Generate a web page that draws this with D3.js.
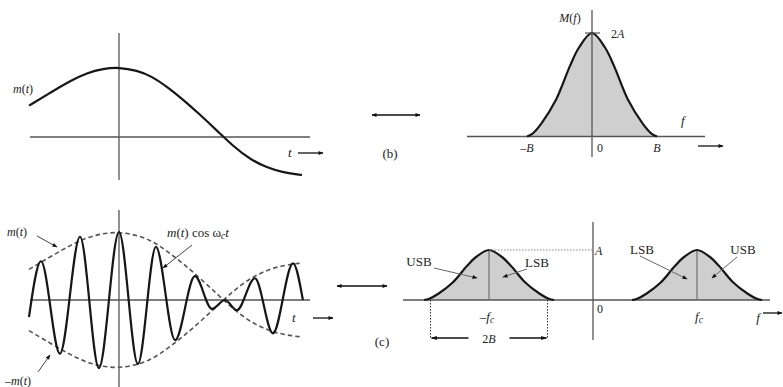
<!DOCTYPE html>
<html><head><meta charset="utf-8">
<script src="https://cdn.jsdelivr.net/npm/d3@7/dist/d3.min.js"></script>
<style>
html,body{margin:0;padding:0;background:#fff;}
svg text{font-family:"Liberation Serif","DejaVu Serif",serif;fill:#222;}
</style></head>
<body>
<svg id="c" width="783" height="387"></svg>
<script>
// ---- data ----
// message m(t): time samples (units of 30 px) and normalised amplitude
const mT = [-3.0,-2.2,-1.6,-1.07,-0.53,0,0.6,1.1,1.6,2.13,2.7,3.27,3.8,4.37,4.93,5.47,6.1];
const mV = [0.45,0.66,0.81,0.92,0.98,1.0,0.955,0.87,0.72,0.54,0.32,0.09,-0.13,-0.32,-0.44,-0.51,-0.545];
// modulated signal m(t)cos(wc t): extrema
const carT = [-3.0,-2.6,-1.97,-1.3,-0.67,0,0.63,1.23,1.87,2.53,3.1,3.53,3.93,4.53,5.13,5.8,6.13];
const carV = [-0.25,0.57,-0.79,0.93,-1.0,1.0,-0.94,0.78,-0.59,0.35,-0.13,0.0,-0.15,0.32,-0.49,0.54,0.0];
// spectrum M(f): frequency in units of B, value with peak 2A (A = 1)
const bellF = [-1,-0.92,-0.78,-0.55,-0.34,-0.2,0,0.2,0.34,0.55,0.78,0.92,1];
const bellM = [0,0.05,0.25,0.72,1.36,1.72,2,1.72,1.36,0.72,0.25,0.05,0];
const fc = 1.6;            // carrier frequency in units of B
const dimEdges = [-0.9, 0.9]; // dotted 2B marker offsets from -fc
const labelsB = ["\u2013B", "0", "B"];

const svg = d3.select("#c");
const defs = svg.append("defs");
defs.append("marker").attr("id","ar").attr("viewBox","0 0 10 10").attr("refX",9).attr("refY",5)
  .attr("markerWidth",8).attr("markerHeight",6).attr("orient","auto-start-reverse")
  .attr("markerUnits","userSpaceOnUse")
  .append("path").attr("d","M0,1.5 L10,5 L0,8.5 Z").attr("fill","#111");
defs.append("marker").attr("id","ars").attr("viewBox","0 0 10 10").attr("refX",9).attr("refY",5)
  .attr("markerWidth",6).attr("markerHeight",5).attr("orient","auto-start-reverse")
  .attr("markerUnits","userSpaceOnUse")
  .append("path").attr("d","M0,1 L10,5 L0,9 Z").attr("fill","#111");

const axisCol = "#555", curveCol = "#161616";
const smooth = d3.curveCatmullRom.alpha(0.5);
function line(x1,y1,x2,y2,opt={}) {
  const l = svg.append("line").attr("x1",x1).attr("y1",y1).attr("x2",x2).attr("y2",y2)
    .attr("stroke",opt.color||axisCol).attr("stroke-width",opt.w||1.3);
  if (opt.dash) l.attr("stroke-dasharray",opt.dash);
  if (opt.end) l.attr("marker-end","url(#"+opt.end+")");
  if (opt.start) l.attr("marker-start","url(#"+opt.start+")");
  return l;
}
function text(x,y,parts,opt={}) {
  const t = svg.append("text").attr("x",x).attr("y",y).attr("font-size",opt.size||13)
    .attr("text-anchor",opt.anchor||"start");
  parts.forEach(p=>{
    const s = t.append("tspan").text(p.t);
    if (p.i) s.attr("font-style","italic");
    if (p.sub) s.attr("baseline-shift","-25%").attr("font-size",(opt.size||13)*0.72);
  });
  return t;
}

// ---- panel (a): m(t) ----
const xT = d3.scaleLinear().domain([0,1]).range([119,149]);
const yA = d3.scaleLinear().domain([0,1]).range([137,67.3]);
line(30,yA(0),310,yA(0));
line(xT(0),33,xT(0),180);
const mData = mT.map((t,i)=>[t,mV[i]]);
svg.append("path").datum(mData)
  .attr("d", d3.line().x(d=>xT(d[0])).y(d=>yA(d[1])).curve(d3.curveBasis))
  .attr("fill","none").attr("stroke",curveCol).attr("stroke-width",2.2);
text(13,93,[{t:"m",i:1},{t:"("},{t:"t",i:1},{t:")"}],{size:12});
text(288,157,[{t:"t",i:1}],{size:13});
line(298,153,323,153,{color:"#111",w:1.3,end:"ars"});

// double arrows & panel tags
line(372,115,420,115,{color:"#111",w:1.3,end:"ars",start:"ars"});
text(390,158,[{t:"(b)"}],{size:13,anchor:"middle"});
line(337,286,387,286,{color:"#111",w:1.3,end:"ars",start:"ars"});
text(382,346,[{t:"(c)"}],{size:13,anchor:"middle"});

// ---- panel (b): M(f) ----
const xB = d3.scaleLinear().domain([-1,1]).range([527,657]);
const yB = d3.scaleLinear().domain([0,2]).range([136.5,33]);
const bData = bellF.map((f,i)=>[f,bellM[i]]);
svg.append("path").datum(bData)
  .attr("d", d3.area().x(d=>xB(d[0])).y0(yB(0)).y1(d=>yB(d[1])).curve(smooth))
  .attr("fill","#cfcfcf");
line(467,136.5,705,136.5);
line(xB(0),10,xB(0),157);
svg.append("path").datum(bData)
  .attr("d", d3.line().x(d=>xB(d[0])).y(d=>yB(d[1])).curve(smooth))
  .attr("fill","none").attr("stroke",curveCol).attr("stroke-width",2.2);
line(xB(0)-7,yB(2),xB(0)+8,yB(2),{w:1.2});
text(570,22,[{t:"M",i:1},{t:"("},{t:"f",i:1},{t:")"}],{size:12,anchor:"middle"});
text(611,38,[{t:"2"},{t:"A",i:1}],{size:12});
text(681,125,[{t:"f",i:1}],{size:13});
[-1,0,1].forEach((f,i)=>{
  text(xB(f)+(f===0?8:0),152,[{t:labelsB[i],i:f!==0}],{size:12,anchor:"middle"});
});
line(698,146,723,146,{color:"#111",w:1.3,end:"ars"});

// ---- panel (c) left: modulated signal ----
const yC = d3.scaleLinear().domain([0,1]).range([300,232]);
line(30,300,310,300);
line(xT(0),210,xT(0),387);
const env = d3.line().x(d=>xT(d[0])).y(d=>yC(d[1])).curve(d3.curveBasis);
svg.append("path").datum(mData).attr("d",env)
  .attr("fill","none").attr("stroke","#555").attr("stroke-width",1.6).attr("stroke-dasharray","4.5,3");
svg.append("path").datum(mData.map(d=>[d[0],-d[1]])).attr("d",env)
  .attr("fill","none").attr("stroke","#555").attr("stroke-width",1.6).attr("stroke-dasharray","4.5,3");
svg.append("path").datum(carT.map((t,i)=>[t,carV[i]]))
  .attr("d", d3.line().x(d=>xT(d[0])).y(d=>yC(d[1])).curve(d3.curveMonotoneX))
  .attr("fill","none").attr("stroke",curveCol).attr("stroke-width",2.2);
text(7,236,[{t:"m",i:1},{t:"("},{t:"t",i:1},{t:")"}],{size:12});
line(37,236,57,247,{color:"#444",w:1,end:"ars"});
text(5,385,[{t:"\u2013"},{t:"m",i:1},{t:"("},{t:"t",i:1},{t:")"}],{size:12});
line(38,372,50,355,{color:"#444",w:1,end:"ars"});
text(167,237,[{t:"m",i:1},{t:"("},{t:"t",i:1},{t:") cos ω"},{t:"c",i:1,sub:1},{t:"t",i:1}],{size:13});
line(192,245,163,268,{color:"#444",w:1,end:"ars"});
text(292,322,[{t:"t",i:1}],{size:13});
line(313,318,333,318,{color:"#111",w:1.3,end:"ars"});

// ---- panel (c) right: DSB spectrum ----
const xS = d3.scaleLinear().domain([0,1]).range([593,658]);
const yS = d3.scaleLinear().domain([0,1]).range([300,250]);
[-fc, fc].forEach(c=>{
  const d = bellF.map((f,i)=>[c+f, bellM[i]/2]);
  svg.append("path").datum(d)
    .attr("d", d3.area().x(p=>xS(p[0])).y0(yS(0)).y1(p=>yS(p[1])).curve(smooth))
    .attr("fill","#cfcfcf");
});
line(403,300,770,300);
line(xS(0),222,xS(0),340);
[-fc, fc].forEach(c=>{
  line(xS(c),yS(1),xS(c),yS(0),{color:"#666",w:1.1});
  const d = bellF.map((f,i)=>[c+f, bellM[i]/2]);
  svg.append("path").datum(d)
    .attr("d", d3.line().x(p=>xS(p[0])).y(p=>yS(p[1])).curve(smooth))
    .attr("fill","none").attr("stroke",curveCol).attr("stroke-width",2.2);
});
line(xS(-fc),yS(1),xS(0),yS(1),{color:"#888",w:1,dash:"1.5,1.5"});
text(xS(0)+2,255,[{t:"A",i:1}],{size:12});
text(xS(0)+7,313,[{t:"0"}],{size:12,anchor:"middle"});
text(xS(-fc)-2,321,[{t:"\u2013"},{t:"f",i:1},{t:"c",i:1,sub:1}],{size:13,anchor:"middle"});
text(xS(fc)+2,321,[{t:"f",i:1},{t:"c",i:1,sub:1}],{size:13,anchor:"middle"});
text(758,322,[{t:"f",i:1}],{size:13,anchor:"middle"});
line(763,313,782,313,{color:"#111",w:1.3,end:"ars"});
// 2B dimension
const dl = xS(-fc+dimEdges[0]), dr = xS(-fc+dimEdges[1]);
line(dl,300,dl,338,{color:"#333",w:1,dash:"1.5,1.5"});
line(dr,300,dr,338,{color:"#333",w:1,dash:"1.5,1.5"});
line(dl+1,338,dl+38,338,{color:"#111",w:1.3,start:"ar"});
line(dr-38,338,dr-1,338,{color:"#111",w:1.3,end:"ar"});
text(xS(-fc),343,[{t:"2"},{t:"B",i:1}],{size:12,anchor:"middle"});
// sideband labels
text(419,266,[{t:"USB"}],{size:13,anchor:"middle"});
line(434,268,477,278,{color:"#666",w:1,end:"ars"});
text(537,267,[{t:"LSB"}],{size:13,anchor:"middle"});
line(527,269,503,277,{color:"#666",w:1,end:"ars"});
text(642,254,[{t:"LSB"}],{size:13,anchor:"middle"});
line(640,256,687,279,{color:"#666",w:1,end:"ars"});
text(743,254,[{t:"USB"}],{size:13,anchor:"middle"});
line(737,257,712,278,{color:"#666",w:1,end:"ars"});
</script>
</body></html>
